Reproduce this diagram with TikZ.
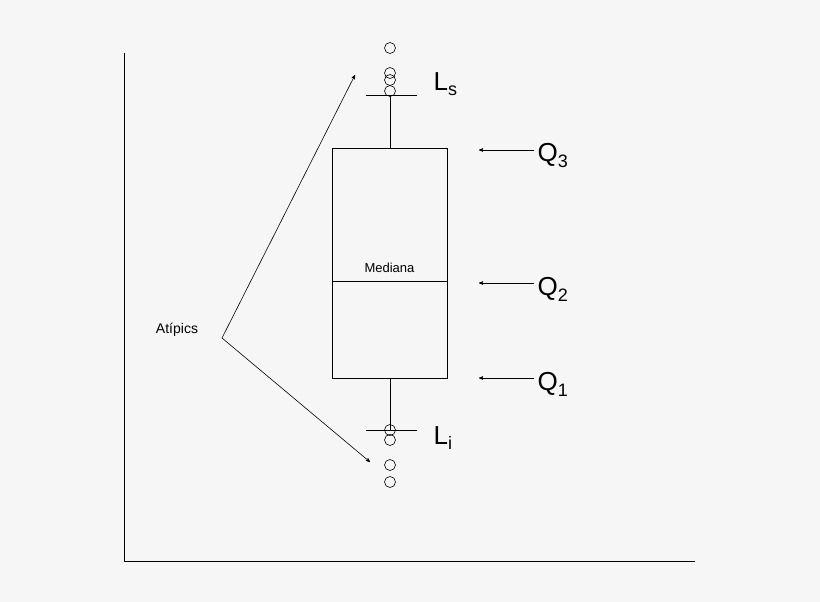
\documentclass[tikz,border=0pt]{standalone}
\usepackage{fontspec}
\setmainfont{Liberation Sans}
\usetikzlibrary{arrows}
\begin{document}
\begin{tikzpicture}[x=1pt,y=-1pt,thick,
    atipico/.style={circle,draw=black,minimum size=11pt,inner sep=0pt},
    marca/.style={font=\fontsize{26}{28}\selectfont,anchor=west},
    flecha/.style={->,>=stealth',semithick}]
  \fill[gray!7] (0,0) rectangle (820,602);
  \useasboundingbox (0,0) rectangle (820,602);
  % ejes
  \coordinate (ejeA) at (124,53);
  \coordinate (ejeO) at (124,561);
  \coordinate (ejeB) at (695,561);
  \draw[semithick] (ejeA) -- (ejeO) -- (ejeB);
  % caja
  \node [draw,semithick,minimum width=115pt,minimum height=230pt,inner sep=0pt] (caja) at (389.5,263) {};
  \coordinate (medI) at (332,281);
  \coordinate (medD) at (447,281);
  \draw[semithick] (medI) -- (medD);
  \node [font=\fontsize{13}{15}\selectfont] (med) at (389.5,268) {Mediana};
  % bigotes
  \coordinate (sup) at (390,95);
  \coordinate (inf) at (390,430);
  \draw[semithick] (caja.north -| sup) -- (sup);
  \draw[semithick] (caja.south -| inf) -- (inf);
  \draw[semithick] (366,95) -- (417,95);
  \draw[semithick] (366,430) -- (417,430);
  % atipicos
  \foreach \y [count=\i] in {48,73,80,91} \node [atipico,semithick] (s\i) at (390,\y) {};
  \foreach \y [count=\i] in {430,440,465,482} \node [atipico,semithick] (i\i) at (390,\y) {};
  \node [marca] (Ls) at (430,84) {L\raisebox{-5pt}{\fontsize{18}{20}\selectfont s}};
  \node [marca] (Li) at (430,438) {L\raisebox{-5pt}{\fontsize{18}{20}\selectfont i}};
  \node [font=\fontsize{14}{16}\selectfont] (atip) at (177,330) {Atípics};
  \coordinate (vertice) at (222,338);
  \coordinate (puntaS) at (355,75);
  \coordinate (puntaI) at (370,462);
  \draw[flecha] (vertice) -- (puntaS);
  \draw[flecha] (vertice) -- (puntaI);
  % cuartiles
  \foreach \y/\q in {150/3,283/2,378/1} {
    \node [marca] (Q\q) at (534,\y+6) {Q\raisebox{-6pt}{\fontsize{18}{20}\selectfont\q}};
    \coordinate (p\q) at (479,\y);
    \draw[flecha] (Q\q.west |- p\q) -- (p\q);
  }
\end{tikzpicture}
\end{document}
